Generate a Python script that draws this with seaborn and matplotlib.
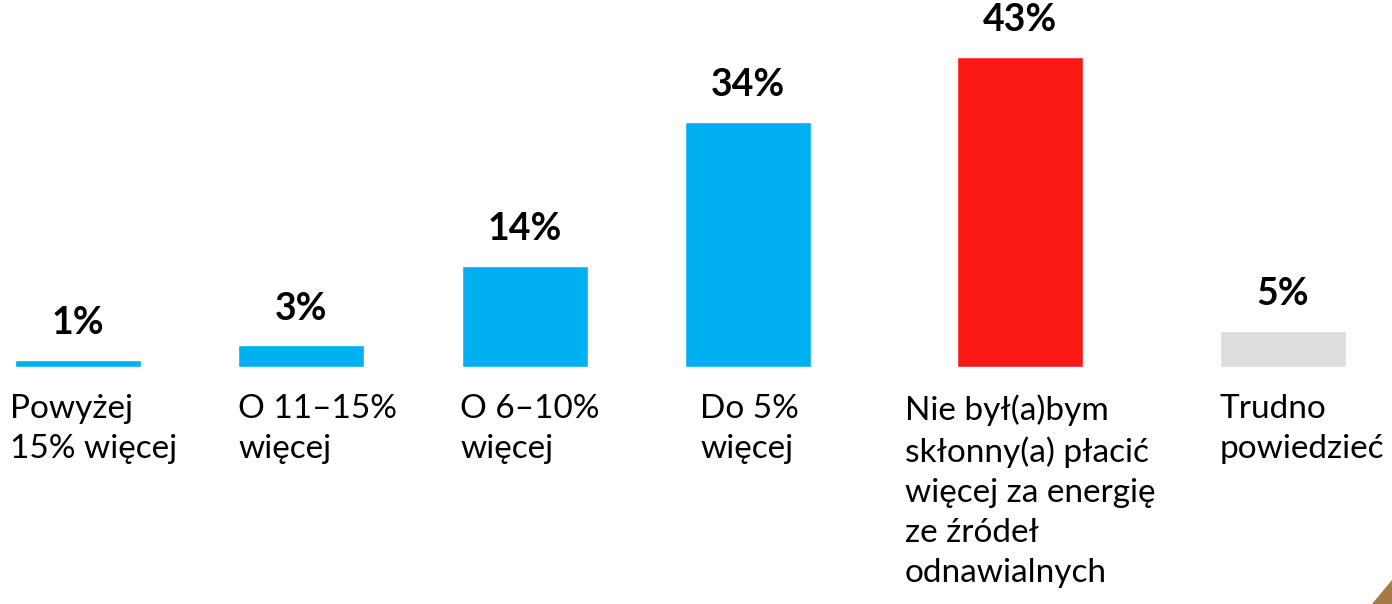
import numpy as np
import pandas as pd
import matplotlib
matplotlib.use("Agg")
import matplotlib.pyplot as plt
from matplotlib.patches import Polygon
import seaborn as sns

# data
categories = ["Powyżej\n15% więcej", "O 11–15%\nwięcej", "O 6–10%\nwięcej",
              "Do 5%\nwięcej",
              "Nie był(a)bym\nskłonny(a) płacić\nwięcej za energię\nze źródeł\nodnawialnych",
              "Trudno\npowiedzieć"]
shares = [1, 3, 14, 34, 43, 5]
bar_colors = ["#00B0F0", "#00B0F0", "#00B0F0", "#00B0F0", "#F81915", "#DDDDDD"]

# layout (pixel-like x units so the uneven spacing of the original is kept)
centers = [78, 301, 525, 748, 1020, 1283]
label_x = [10, 238, 460, 700, 905, 1220]
px_per_pct = 7.22
baseline_px = 367
W, H = 1392, 604

sns.set_theme(style="white")
plt.rcParams['font.family'] = ['Lato', 'DejaVu Sans']

df = pd.DataFrame({"pos": centers, "share": shares, "cat": categories})

fig = plt.figure(figsize=(W / 100, H / 100), dpi=100)
ax = fig.add_axes([0, 0, 1, 1])

sns.barplot(data=df, x="pos", y="share", hue="cat", palette=bar_colors,
            native_scale=True, dodge=False, width=126 / 223, legend=False,
            saturation=1, ax=ax)

for cont in ax.containers:
    ax.bar_label(cont, fmt="%d%%", padding=14, fontsize=27,
                 fontweight="bold", color="black")

def px2y(y_px):
    return (baseline_px - y_px) / px_per_pct

for x, txt in zip(label_x, categories):
    ax.text(x, px2y(394), txt, ha="left", va="top", fontsize=24,
            color="black", linespacing=1.42)

ax.set_xlim(0, W)
ax.set_ylim(px2y(H), px2y(0))
ax.axis("off")

# little corner decoration
fig.patches.append(Polygon([[1372 / W, 0], [1, 0], [1, 24 / H]],
                           closed=True, transform=fig.transFigure,
                           color="#A57A45"))

fig.savefig("out.png", dpi=100)
